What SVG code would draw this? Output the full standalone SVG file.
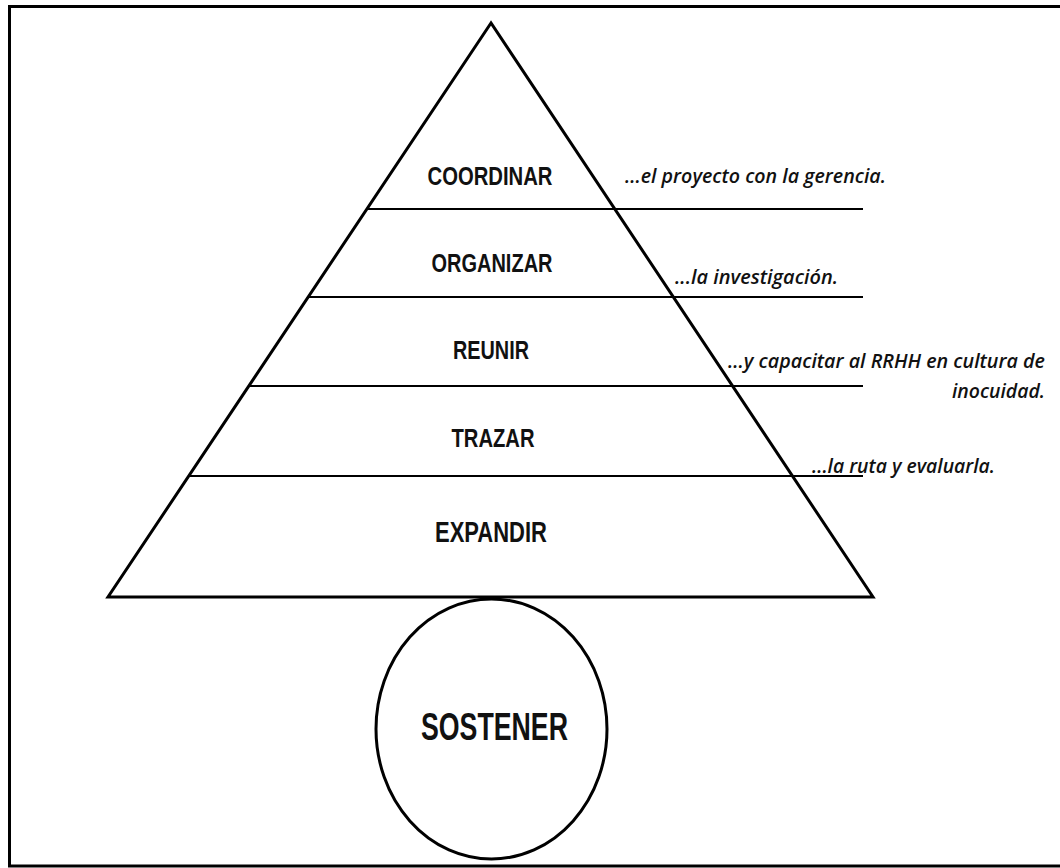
<svg xmlns="http://www.w3.org/2000/svg" width="1060" height="868" viewBox="0 0 1060 868">
  <style>
    .frame { fill: #ffffff; stroke: #000000; stroke-width: 3; }
    .shape { fill: none; stroke: #000000; stroke-width: 3; stroke-linejoin: miter; }
    .band { stroke: #000000; stroke-width: 2; }
    .step { font-family: "Liberation Sans Narrow", "Liberation Sans", Arial, sans-serif; font-weight: bold; fill: #111111; text-anchor: middle; }
    .note { font-family: "Open Sans", "Liberation Sans", sans-serif; font-style: italic; font-weight: 600; font-size: 20px; fill: #111111; }
  </style>

  <!-- outer frame (right edge runs off the page) -->
  <rect class="frame" x="9.5" y="6.5" width="1060" height="859.5"/>

  <!-- pyramid outline -->
  <g id="pyramid">
    <polygon class="shape" points="491,23 108,597 873,597"/>
  </g>

  <!-- dividers between levels, extended to the right as note rules -->
  <g id="connectors">
    <line class="band" x1="367" y1="209" x2="863" y2="209"/>
    <line class="band" x1="308" y1="297" x2="863" y2="297"/>
    <line class="band" x1="249" y1="386" x2="863" y2="386"/>
    <line class="band" x1="189" y1="476" x2="863" y2="476"/>
  </g>

  <!-- levels -->
  <g id="coordinar">
    <text class="step" x="490" y="185" font-size="25" textLength="125" lengthAdjust="spacingAndGlyphs">COORDINAR</text>
    <text class="note" x="625" y="183" textLength="261" lengthAdjust="spacingAndGlyphs">...el proyecto con la gerencia.</text>
  </g>
  <g id="organizar">
    <text class="step" x="492" y="272" font-size="25" textLength="121" lengthAdjust="spacingAndGlyphs">ORGANIZAR</text>
    <text class="note" x="675" y="284" textLength="163" lengthAdjust="spacingAndGlyphs">...la investigación.</text>
  </g>
  <g id="reunir">
    <text class="step" x="491" y="359" font-size="25" textLength="76" lengthAdjust="spacingAndGlyphs">REUNIR</text>
    <text class="note" x="728" y="368" textLength="317" lengthAdjust="spacingAndGlyphs">...y capacitar al RRHH en cultura de</text>
    <text class="note" x="1045" y="398" text-anchor="end" textLength="93" lengthAdjust="spacingAndGlyphs">inocuidad.</text>
  </g>
  <g id="trazar">
    <text class="step" x="493" y="447" font-size="26" textLength="83" lengthAdjust="spacingAndGlyphs">TRAZAR</text>
    <text class="note" x="812" y="473" textLength="183" lengthAdjust="spacingAndGlyphs">...la ruta y evaluarla.</text>
  </g>
  <g id="expandir">
    <text class="step" x="491" y="542" font-size="29" textLength="112" lengthAdjust="spacingAndGlyphs">EXPANDIR</text>
  </g>

  <!-- base circle -->
  <g id="sostener">
    <ellipse class="shape" cx="491.5" cy="729" rx="115.5" ry="130" stroke-width="2.5"/>
    <text class="step" x="494.5" y="740" font-size="38" textLength="147" lengthAdjust="spacingAndGlyphs">SOSTENER</text>
  </g>
</svg>
